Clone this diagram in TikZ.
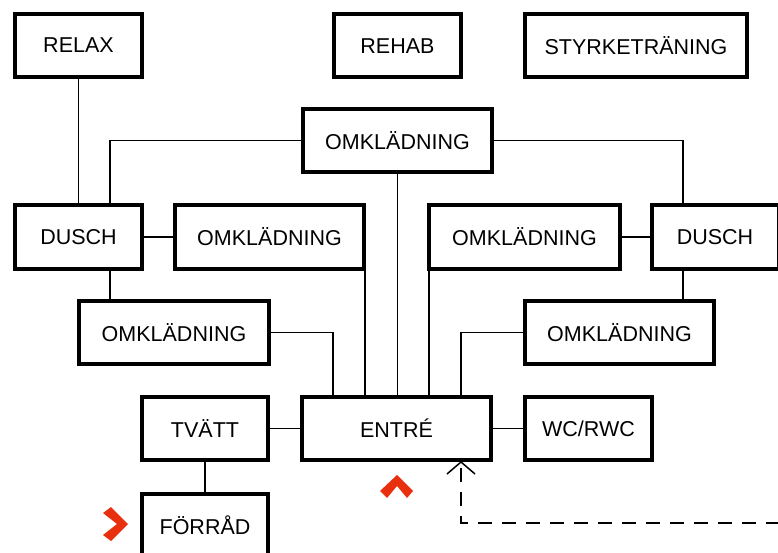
\documentclass[tikz,border=0pt]{standalone}
\usepackage{fontspec}
\setmainfont{Liberation Sans}
\usetikzlibrary{arrows.meta}
\definecolor{chev}{RGB}{232,48,14}
\begin{document}
\begin{tikzpicture}[x=1pt,y=-1pt,
  box/.style={draw=black, line width=4pt, fill=white, inner sep=0pt,
    minimum height=63pt, font=\fontsize{21.5}{24}\selectfont},
  conn/.style={draw=black, line width=1.5pt},
  dashconn/.style={draw=black, line width=1.6pt, dash pattern=on 14pt off 10pt,
    -{Straight Barb[length=12pt,width=28pt,line width=1.5pt]}},
  chevron/.style={fill=chev, draw=none}]
\useasboundingbox (0,0) rectangle (778,553);
\clip (0,0) rectangle (778,553);
% boxes
\node[box, minimum width=127pt] (relax) at (78.5,45.5) {RELAX};
\node[box, minimum width=127pt] (rehab) at (397.5,46) {REHAB};
\node[box, minimum width=222pt] (styrke) at (636,46) {STYRKETRÄNING};
\node[box, minimum width=189pt] (ot) at (397.5,140.5) {OMKLÄDNING};
\node[box, minimum width=127pt] (dl) at (78.5,237) {DUSCH};
\node[box, minimum width=189pt] (l2) at (269.5,237) {OMKLÄDNING};
\node[box, minimum width=190pt] (l3) at (174,332.5) {OMKLÄDNING};
\node[box, minimum width=191pt] (r2) at (524.5,237) {OMKLÄDNING};
\node[box, minimum width=127pt] (dr) at (715,237) {DUSCH};
\node[box, minimum width=189pt] (r3) at (619.5,332.5) {OMKLÄDNING};
\node[box, minimum width=189pt] (e) at (396.5,428.5) {ENTRÉ};
\node[box, minimum width=126pt] (tv) at (205,428.5) {TVÄTT};
\node[box, minimum width=127pt] (wc) at (588.5,428.5) {WC/RWC};
\node[box, minimum width=126pt] (fr) at (205,525.5) {FÖRRÅD};
% helper coordinates
\coordinate (xl1) at (110,0);
\coordinate (xr1) at (683,0);
\coordinate (e1) at (333,0);
\coordinate (e2) at (365,0);
\coordinate (e4) at (429,0);
\coordinate (e5) at (461,0);
\coordinate (dstart) at (780,523);
% connectors
\draw[conn] (relax.south) -- (relax.south |- dl.north);
\draw[conn] (ot.west) -| (xl1 |- dl.north);
\draw[conn] (ot.east) -| (xr1 |- dr.north);
\draw[conn] (ot.south) -- (ot.south |- e.north);
\draw[conn] (dl.east) -- (l2.west);
\draw[conn] (xl1 |- dl.south) -- (xl1 |- l3.north);
\draw[conn] (e2 |- l2.south) -- (e2 |- e.north);
\draw[conn] (l3.east) -| (e1 |- e.north);
\draw[conn] (e4 |- r2.south) -- (e4 |- e.north);
\draw[conn] (r2.east) -- (dr.west);
\draw[conn] (xr1 |- dr.south) -- (xr1 |- r3.north);
\draw[conn] (r3.west) -| (e5 |- e.north);
\draw[conn] (tv.east) -- (e.west);
\draw[conn] (e.east) -- (wc.west);
\draw[conn] (tv.south) -- (fr.north);
\draw[dashconn] (dstart) -- (e5 |- dstart) -- ([yshift=1pt]e5 |- e.south);
% chevrons
\fill[chevron] (380,491) -- (397,475) -- (413,491) -- (407,498) -- (397,486) -- (387,498) -- cycle;
\fill[chevron] (103,513) -- (111,507) -- (128,524) -- (111,541) -- (103,535) -- (117,524) -- cycle;
\end{tikzpicture}
\end{document}
